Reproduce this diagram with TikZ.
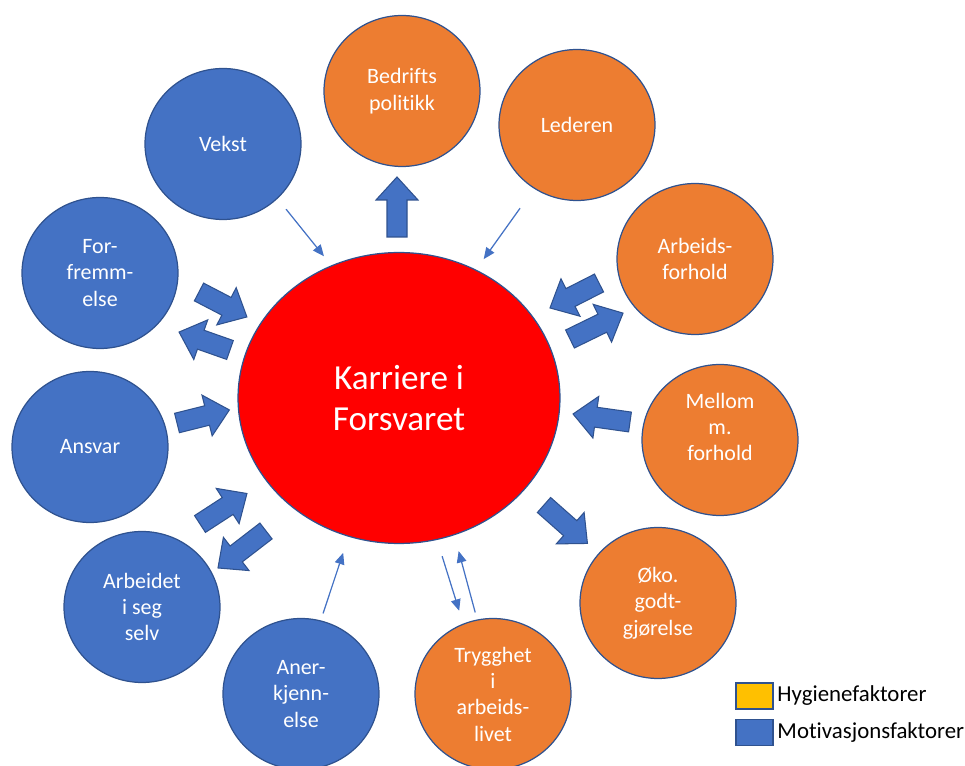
\documentclass[tikz,border=0pt]{standalone}
\usepackage{fontspec}
\setmainfont[Ligatures=NoCommon]{Carlito}
\usetikzlibrary{shapes.geometric}
\usetikzlibrary{arrows.meta}
\usetikzlibrary{positioning}

\definecolor{blaa}{HTML}{4472C4}
\definecolor{oransje}{HTML}{ED7D31}
\definecolor{kant}{HTML}{2F528F}
\definecolor{gul}{HTML}{FFC000}

\tikzset{
	faktor/.style={draw=kant, line width=0.7pt, ellipse, minimum width=3.12cm, minimum height=3.02cm, inner sep=0pt, outer sep=0pt, align=center, text=white, font=\fontsize{12.5}{15}\selectfont},
	motiv/.style={faktor, fill=blaa},
	hygiene/.style={faktor, fill=oransje},
	tynn/.style={blaa, line width=0.7pt, -{Triangle[length=6.5pt,width=5.5pt]}},
	tykk/.style={fill=blaa, draw=kant, line width=0.6pt, line join=miter},
	boks/.style={draw=kant, line width=0.7pt, minimum width=0.74cm, minimum height=0.52cm, inner sep=0pt},
	forklaring/.style={inner sep=2pt, font=\fontsize{13}{15}\selectfont}
}

% tykk pil: startpunkt, vinkel, lengde
\newcommand{\tykkpil}[3]{\draw[tykk, shift={#1}, rotate=#2] (0,-10) -- (#3-23,-10) -- (#3-23,-21) -- (#3,0) -- (#3-23,21) -- (#3-23,10) -- (0,10) -- cycle;}

\begin{document}
\begin{tikzpicture}[x=0.02cm, y=-0.02cm]
		\useasboundingbox (0,0) rectangle (965,766);
		\node [draw=kant, line width=0.7pt, ellipse, fill=red, minimum width=6.44cm, minimum height=5.82cm, outer sep=0pt, align=center, text=white, font=\fontsize{20}{23.5}\selectfont] (karriere) at (399,398) {Karriere i\\Forsvaret};
		% motivasjonsfaktorer
		\node [motiv] (vekst) at (223,144) {Vekst};
		\node [motiv] (forfremmelse) at (100,273) {For-\\fremm-\\else};
		\node [motiv] (ansvar) at (90,447) {Ansvar};
		\node [motiv] (arbeidet) at (142,607) {Arbeidet\\i seg\\selv};
		\node [motiv] (anerkjennelse) at (301,694) {Aner-\\kjenn-\\else};
		% hygienefaktorer
		\node [hygiene] (bedrift) at (402,91) {Bedrifts\\politikk};
		\node [hygiene] (lederen) at (577,125) {Lederen};
		\node [hygiene] (arbeidsforhold) at (695,259) {Arbeids-\\forhold};
		\node [hygiene] (mellom) at (720,440) {Mellom\\m.\\forhold\\\mbox{}};
		\node [hygiene] (oko) at (658,603) {Øko.\\godt-\\gjørelse};
		\node [hygiene] (trygghet) at (493,694) {Trygghet\\i\\arbeids-\\livet};
		% tynne piler
		\draw [tynn, shorten <=8pt, shorten >=7pt] (vekst.-45) -- (karriere.117);
		\draw [tynn, shorten <=14pt, shorten >=7.7pt] (lederen.-124) -- (karriere.59);
		\draw [tynn, shorten <=4.5pt, shorten >=10pt] (anerkjennelse.75) -- (karriere.-110);
		\draw [tynn, shorten <=10pt, shorten >=8pt] (karriere.-75) -- (trygghet.113);
		\draw [tynn, shorten <=4.5pt, shorten >=9.7pt] (trygghet.102) -- (karriere.-68);
		% tykke piler
		\tykkpil{(397,237)}{90}{60}
		\tykkpil{(199,292)}{-27.5}{54}
		\tykkpil{(230,350)}{160.6}{54}
		\tykkpil{(599,283)}{-153}{55}
		\tykkpil{(570,339)}{26}{59}
		\tykkpil{(177,423)}{14}{54}
		\tykkpil{(630,422)}{172}{57.5}
		\tykkpil{(200,524)}{33}{56}
		\tykkpil{(266,531)}{-142.4}{60.6}
		\tykkpil{(544,505)}{-41.5}{58}
		% forklaring
		\node [boks, fill=gul] (hygboks) at (754.5,696) {};
		\node [boks, fill=blaa] (motivboks) at (754.5,732.5) {};
		\node [forklaring, right=0pt of hygboks] (hygtekst) {Hygienefaktorer};
		\node [forklaring, right=0pt of motivboks] (motivtekst) {Motivasjonsfaktorer};
	\end{tikzpicture}
\end{document}
